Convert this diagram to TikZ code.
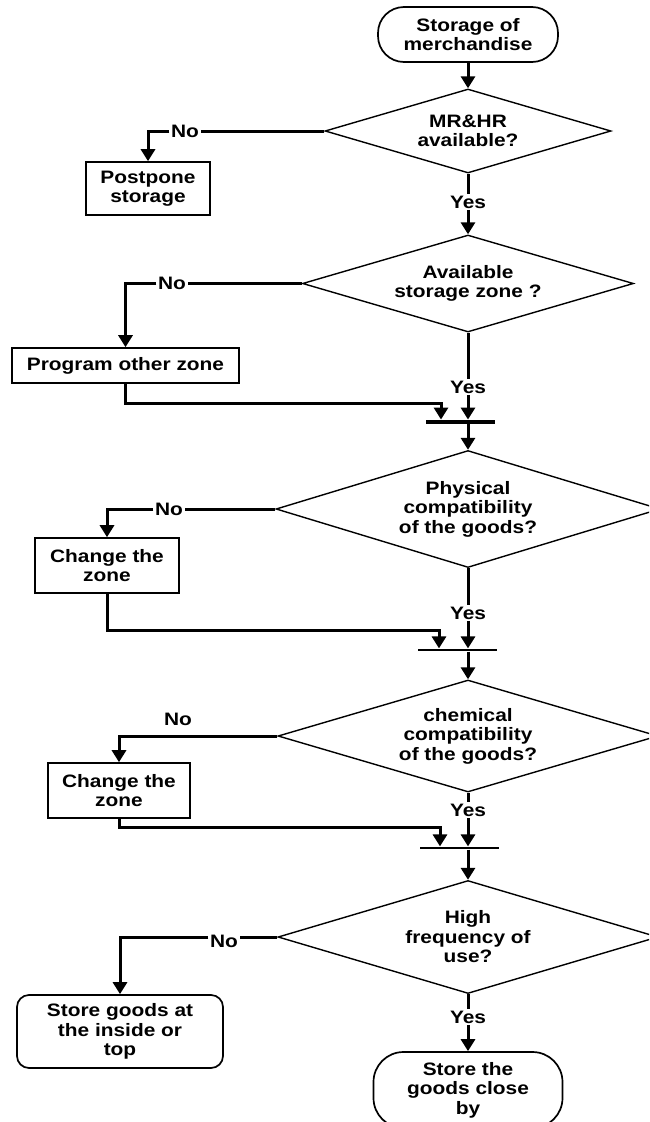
\documentclass[tikz,border=0pt]{standalone}
\usepackage{fontspec}
\setmainfont{Liberation Sans}[FakeStretch=1.16]
\usetikzlibrary{arrows.meta,shapes.geometric}
\begin{document}
\begin{tikzpicture}[x=1pt,y=-1pt,
  font=\fontsize{18}{19.5}\selectfont\bfseries,
  ln/.style={line width=3pt},
  arr/.style={line width=3pt,-{Triangle[width=14pt,length=12pt]}},
  term/.style={draw,line width=1.7pt,align=center,inner sep=0pt},
  proc/.style={draw,line width=1.6pt,align=center,inner sep=0pt},
  dec/.style={draw,diamond,line width=1.4pt,inner sep=0pt},
  lab/.style={inner sep=1.5pt},
  bar/.style={fill=black,inner sep=0pt,draw=none}]
\useasboundingbox (0,0) rectangle (649,1122);
\clip (0,0) rectangle (649,1122);

% nodes
\node[term,rounded corners=26pt,minimum width=180pt,minimum height=55pt] (start) at (468,34.5) {Storage of\\merchandise};
\node[dec,minimum width=286pt,minimum height=84pt,label={[align=center]center:MR\&HR\\available?}] (d1) at (468,131) {};
\node[lab] (no1) at (185,131) {No};
\node[proc,minimum width=124pt,minimum height=53pt] (post) at (148,188.5) {Postpone\\storage};
\node[lab] (yes1) at (468,202) {Yes};

\node[dec,minimum width=331pt,minimum height=97pt,label={[align=center]center:Available\\storage zone ?}] (d2) at (468,283.5) {};
\node[lab] (no2) at (172,283.5) {No};
\node[proc,minimum width=227pt,minimum height=35pt] (prog) at (125.5,365.5) {Program other zone};
\node[lab] (yes2) at (468,387) {Yes};
\node[bar,minimum width=69pt,minimum height=4.5pt] (bar1) at (460.5,422) {};
\coordinate (m1) at (441,403);

\node[dec,minimum width=384pt,minimum height=117pt,label={[align=center]center:Physical\\compatibility\\of the goods?}] (d3) at (468,509) {};
\node[lab] (no3) at (169,509) {No};
\node[proc,minimum width=144pt,minimum height=55pt] (ch1) at (107,565.5) {Change the\\zone};
\node[lab] (yes3) at (468,613) {Yes};
\node[bar,minimum width=79pt,minimum height=2.8pt] (bar2) at (457.5,650) {};
\coordinate (m2) at (439,630);

\node[dec,minimum width=380pt,minimum height=112pt,label={[align=center]center:chemical\\compatibility\\of the goods?}] (d4) at (468,736) {};
\node[lab] (no4) at (178,719) {No};
\node[proc,minimum width=142pt,minimum height=55pt] (ch2) at (119,790.5) {Change the\\zone};
\node[lab] (yes4) at (468,810) {Yes};
\node[bar,minimum width=79pt,minimum height=2.8pt] (bar3) at (459.5,848) {};
\coordinate (m3) at (440,827);

\node[dec,minimum width=380pt,minimum height=113pt,label={[align=center]center:High\\frequency of\\use?}] (d5) at (468,937) {};
\node[lab] (no5) at (224,941) {No};
\node[term,rounded corners=12pt,minimum width=206pt,minimum height=73pt] (st) at (120,1031.5) {Store goods at\\the inside or\\top};
\node[lab] (yes5) at (468,1017) {Yes};
\node[term,rounded corners=30pt,minimum width=189pt,minimum height=76pt] (endn) at (468,1090) {Store the\\goods close\\by};

% connectors
\draw[arr] (start.south) -- (d1.north);
\draw[ln] (d1.west) -- (no1.east);
\draw[arr] (no1.west) -| (post.north);
\draw[ln] (d1.south) -- (yes1.north);
\draw[arr] (yes1.south) -- (d2.north);

\draw[ln] (d2.west) -- (no2.east);
\draw[arr] (no2.west) -| (prog.north);
\draw[ln] (d2.south) -- (yes2.north);
\draw[arr] (yes2.south) -- (yes2.south |- bar1.north);
\draw[arr] (prog.south) |- (m1) -- (m1 |- bar1.north);
\draw[arr] (d3.north |- bar1.south) -- (d3.north);

\draw[ln] (d3.west) -- (no3.east);
\draw[arr] (no3.west) -| (ch1.north);
\draw[ln] (d3.south) -- (yes3.north);
\draw[arr] (yes3.south) -- (yes3.south |- bar2.north);
\draw[arr] (ch1.south) |- (m2) -- (m2 |- bar2.north);
\draw[arr] (d4.north |- bar2.south) -- (d4.north);

\draw[arr] (d4.west) -| (ch2.north);
\draw[ln] (d4.south) -- (yes4.north);
\draw[arr] (yes4.south) -- (yes4.south |- bar3.north);
\draw[arr] (ch2.south) |- (m3) -- (m3 |- bar3.north);
\draw[arr] (d5.north |- bar3.south) -- (d5.north);

\draw[ln] (d5.west) -- (d5.west -| no5.east);
\draw[arr] (d5.west -| no5.west) -| (st.north);
\draw[ln] (d5.south) -- (yes5.north);
\draw[arr] (yes5.south) -- (endn.north);
\end{tikzpicture}
\end{document}
